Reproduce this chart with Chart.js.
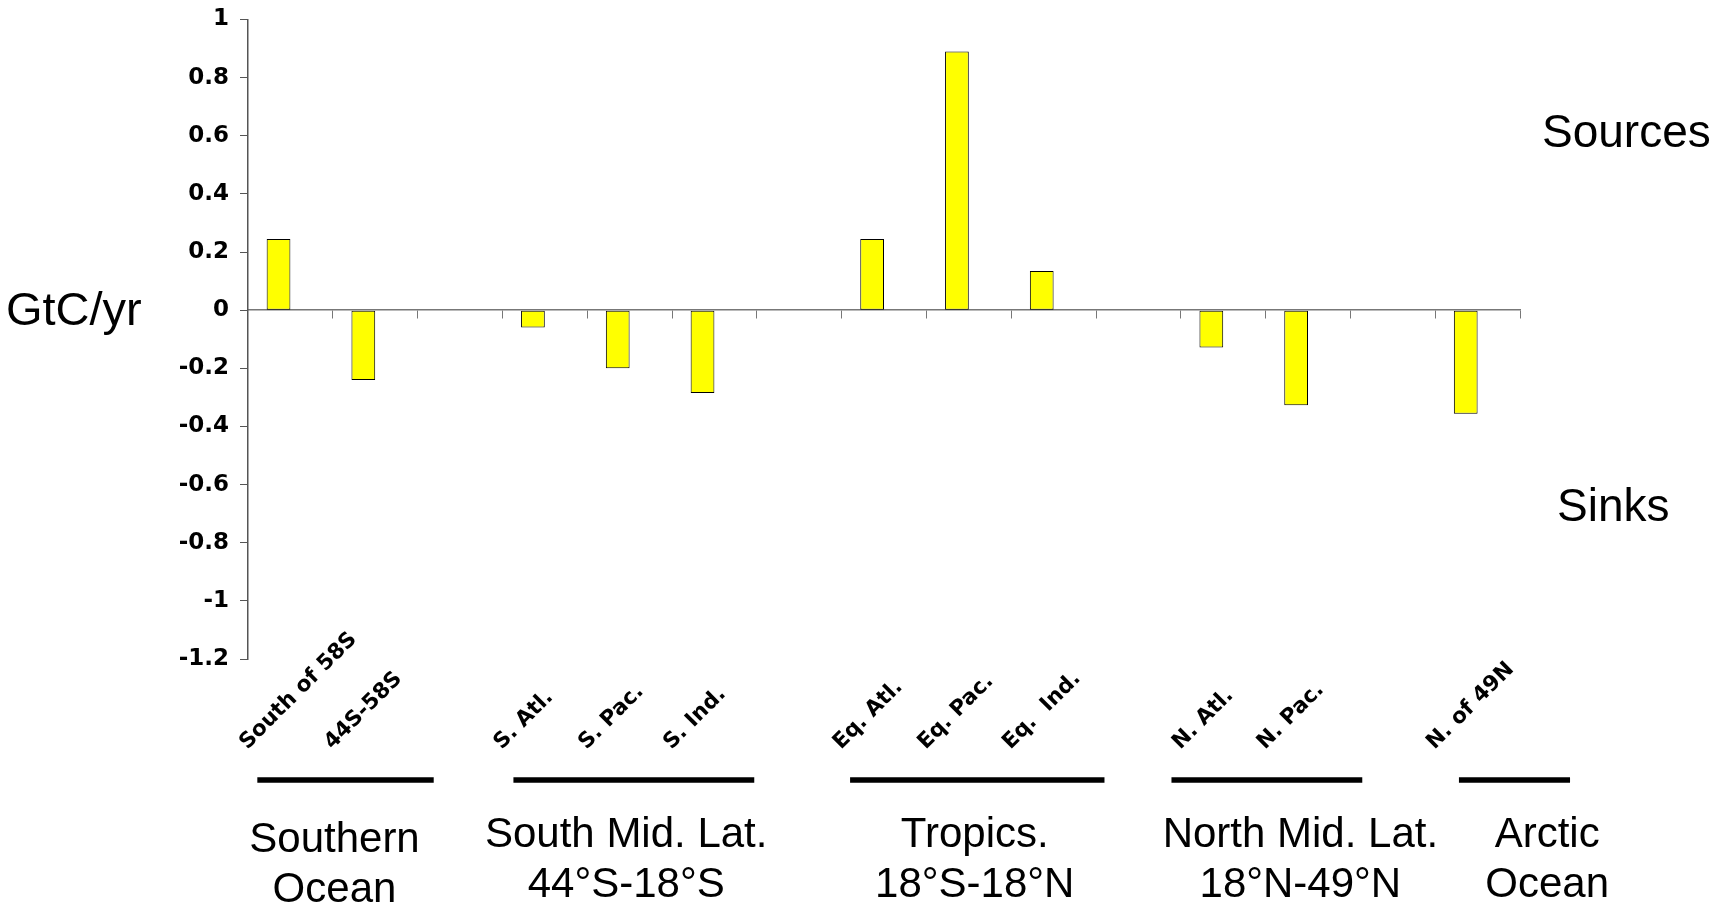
<!DOCTYPE html>
<html>
<head>
<meta charset="utf-8">
<script src="https://cdn.jsdelivr.net/npm/chart.js@4"></script>
<style>
  html, body { margin: 0; padding: 0; background: #ffffff; }
  #wrap { width: 1717px; height: 910px; position: relative; }
</style>
</head>
<body>
<div id="wrap"><canvas id="c" width="1717" height="910"></canvas></div>
<script>
// ---- data ----
const categories = ['South of 58S', '44S-58S', '', 'S. Atl.', 'S. Pac.', 'S. Ind.', '',
                    'Eq. Atl.', 'Eq. Pac.', 'Eq.  Ind.', '', 'N. Atl.', 'N. Pac.', '', 'N. of 49N'];
const fluxValues = [0.245, -0.24, null, -0.06, -0.2, -0.285, null,
                    0.245, 0.89, 0.135, null, -0.128, -0.327, null, -0.356];
const emptySeries = [null, null, null, null, null, null, null, null, null, null, null, null, null, null, null];
const yTickValues = [1, 0.8, 0.6, 0.4, 0.2, 0, -0.2, -0.4, -0.6, -0.8, -1, -1.2];
const groupLine1 = ['Southern', 'South Mid. Lat.', 'Tropics.', 'North Mid. Lat.', 'Arctic'];
const groupLine2 = ['Ocean', '44°S-18°S', '18°S-18°N', '18°N-49°N', 'Ocean'];
// group underline spans and label centres, in category-index units
const groupLineFrom = [-0.39, 2.63, 6.6, 10.39, 13.78];
const groupLineTo   = [1.69, 5.47, 9.6, 12.64, 15.09];
const groupLabelAt  = [0.52, 3.96, 8.07, 11.91, 14.82];
const groupLabelDrop = [5, 0, 0, 0, 0];
const yAxisTitle = 'GtC/yr';
const sideNotes = ['Sources', 'Sinks'];

const annotate = {
  id: 'annotate',
  afterDraw(chart) {
    const ctx = chart.ctx;
    const xs = chart.scales.x, ys = chart.scales.y;
    const area = chart.chartArea;
    ctx.save();
    ctx.fillStyle = '#000';
    // rotated category labels
    ctx.font = 'bold 21.5px "DejaVu Sans"';
    ctx.textAlign = 'left';
    ctx.textBaseline = 'alphabetic';
    categories.forEach((lab, i) => {
      if (!lab) return;
      const px = xs.getPixelForValue(i) - 43;
      const py = area.bottom + 91;
      ctx.save();
      ctx.translate(px, py);
      ctx.rotate(-Math.PI / 4);
      ctx.fillText(lab, 0, 0);
      ctx.restore();
    });
    // group underlines
    ctx.strokeStyle = '#000';
    ctx.lineWidth = 5.5;
    const lineY = area.bottom + 121;
    groupLineFrom.forEach((a, k) => {
      ctx.beginPath();
      ctx.moveTo(xs.getPixelForValue(a), lineY);
      ctx.lineTo(xs.getPixelForValue(groupLineTo[k]), lineY);
      ctx.stroke();
    });
    // group labels
    ctx.font = '42px "Liberation Sans", Arial, sans-serif';
    ctx.textAlign = 'center';
    groupLabelAt.forEach((c, k) => {
      const cx = xs.getPixelForValue(c);
      ctx.fillText(groupLine1[k], cx, area.bottom + 173 + 15 + groupLabelDrop[k]);
      ctx.fillText(groupLine2[k], cx, area.bottom + 223 + 15 + groupLabelDrop[k]);
    });
    // axis title and side notes
    ctx.font = '47px "Liberation Sans", Arial, sans-serif';
    ctx.textAlign = 'left';
    ctx.fillText(yAxisTitle, 6, ys.getPixelForValue(0) + 15);
    ctx.font = '46px "Liberation Sans", Arial, sans-serif';
    ctx.fillText(sideNotes[0], area.right + 22, 130 + 16.5);
    ctx.fillText(sideNotes[1], area.right + 37, 504 + 16.5);
    ctx.restore();
  }
};

new Chart(document.getElementById('c'), {
  type: 'bar',
  data: {
    labels: categories,
    datasets: [
      { label: 'Flux', data: fluxValues, backgroundColor: '#FFFF00', borderColor: '#000000',
        borderWidth: 1, borderSkipped: false },
      { label: '', data: emptySeries, backgroundColor: '#FFFF00', borderColor: '#000000', borderWidth: 1 }
    ]
  },
  options: {
    responsive: false,
    animation: false,
    devicePixelRatio: 1,
    categoryPercentage: 0.56,
    barPercentage: 1.0,
    layout: { padding: { left: 0, right: 197, top: 19.5, bottom: 251 } },
    plugins: { legend: { display: false }, tooltip: { enabled: false } },
    scales: {
      x: {
        type: 'category',
        position: { y: 0 },
        offset: true,
        grid: { display: true, offset: true, drawOnChartArea: false, drawTicks: true, tickLength: 8,
                color: '#777777', lineWidth: 1 },
        border: { display: true, color: '#777777', width: 1.5 },
        ticks: { display: false }
      },
      y: {
        min: -1.2,
        max: 1,
        afterBuildTicks: s => { s.ticks = yTickValues.map(v => ({ value: v })); },
        afterFit: s => { s.width = 248; s.paddingTop = 0; s.paddingBottom = 0; },
        grid: { drawOnChartArea: false, drawTicks: true, tickLength: 8, color: '#555555' },
        border: { display: true, color: '#555555', width: 1.5 },
        ticks: {
          color: '#000000',
          padding: 11,
          font: { family: 'DejaVu Sans', weight: 'bold', size: 23 },
          callback: v => String(Math.round(v * 10) / 10)
        }
      }
    }
  },
  plugins: [annotate]
});
</script>
</body>
</html>
